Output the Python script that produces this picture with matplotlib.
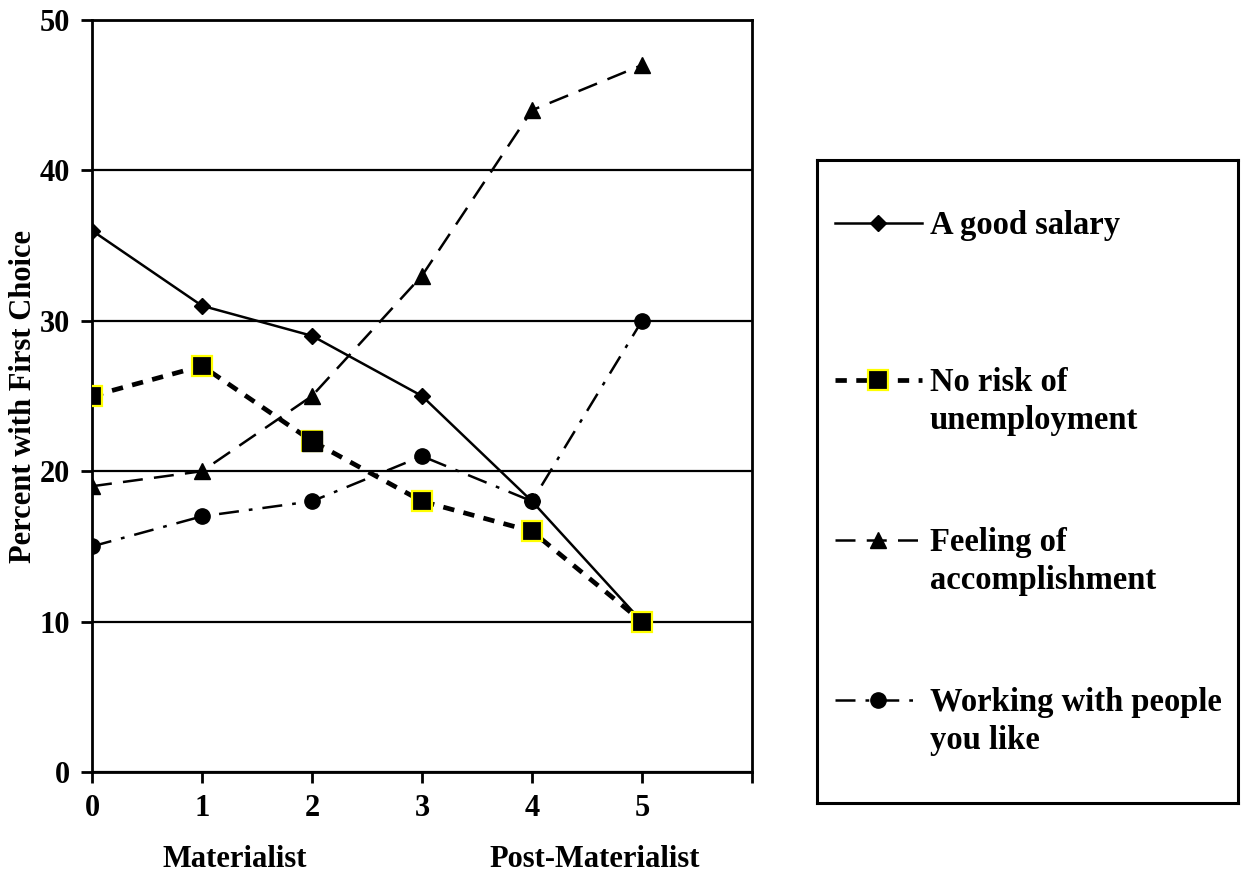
import matplotlib.pyplot as plt
from matplotlib.lines import Line2D

plt.rcParams['font.family'] = ['Liberation Serif', 'DejaVu Serif']
plt.rcParams['font.weight'] = 'bold'

x = [0, 1, 2, 3, 4, 5]
salary = [36, 31, 29, 25, 18, 10]
no_risk = [25, 27, 22, 18, 16, 10]
accomplishment = [19, 20, 25, 33, 44, 47]
people = [15, 17, 18, 21, 18, 30]

labels = ['A good salary', 'No risk of\nunemployment',
          'Feeling of\naccomplishment', 'Working with people\nyou like']

W, H = 1241, 880
fig = plt.figure(figsize=(W / 100, H / 100), dpi=100)
ax = fig.add_axes([92 / W, (H - 772) / H, 660 / W, 752 / H])

styles = [
    dict(color='black', lw=1.8, ls='-', marker='D', ms=8, mfc='black', mec='black'),
    dict(color='black', lw=3.4, ls=(0, (2.4, 2.0)), marker='s', ms=14, mfc='black',
         mec='#ffff00', mew=1.6),
    dict(color='black', lw=1.8, ls=(0, (8, 4.5)), marker='^', ms=11, mfc='black', mec='black'),
    dict(color='black', lw=1.8, ls=(0, (8, 4, 1.5, 4)), marker='o', ms=11, mfc='black',
         mec='black'),
]

for ys, st in zip([salary, no_risk, accomplishment, people], styles):
    ax.plot(x, ys, zorder=3, **st)

# the point at 2 on the unemployment series has no yellow border
ax.plot(x[2], no_risk[2], marker='s', ms=15, mfc='black', mec='black', ls='none', zorder=4)

ax.set_xlim(0, 6)
ax.set_ylim(0, 50)
ax.set_xticks(range(7))
ax.set_xticklabels(['0', '1', '2', '3', '4', '5', ''])
ax.set_yticks(range(0, 51, 10))
ax.yaxis.grid(True, color='black', lw=1.6)
ax.set_axisbelow(True)
for sp in ax.spines.values():
    sp.set_linewidth(2)
ax.tick_params(axis='both', direction='out', length=8, width=2, labelsize=22, pad=8)
ax.set_ylabel('Percent with First Choice', fontsize=22, fontweight='bold')
ax.yaxis.set_label_coords(-0.082, 0.5)

ax.text(1.3, -0.117, 'Materialist', transform=ax.get_xaxis_transform(),
        ha='center', va='center', fontsize=22, fontweight='bold')
ax.text(4.57, -0.117, 'Post-Materialist', transform=ax.get_xaxis_transform(),
        ha='center', va='center', fontsize=22, fontweight='bold')

# legend panel drawn in its own pixel-scaled axes
lx0, lx1, ly0, ly1 = 817, 1238, 160, 803
lax = fig.add_axes([lx0 / W, (H - ly1) / H, (lx1 - lx0) / W, (ly1 - ly0) / H])
lax.set_xlim(lx0, lx1)
lax.set_ylim(ly1, ly0)
lax.set_xticks([])
lax.set_yticks([])
for sp in lax.spines.values():
    sp.set_linewidth(2.2)

line_keys = ('color', 'lw', 'ls')
handle_y = [223, 380, 540, 700]
for yy, st, lab in zip(handle_y, styles, labels):
    lax.add_line(Line2D([835, 922], [yy, yy], **{k: st[k] for k in line_keys}))
    lax.plot(878, yy, ls='none', **{k: v for k, v in st.items() if k not in line_keys})
    for i, part in enumerate(lab.split('\n')):
        lax.text(930, yy + 11 + i * 38, part, fontsize=23.5, fontweight='bold',
                 va='baseline', ha='left')

fig.savefig('out.png', dpi=100)
